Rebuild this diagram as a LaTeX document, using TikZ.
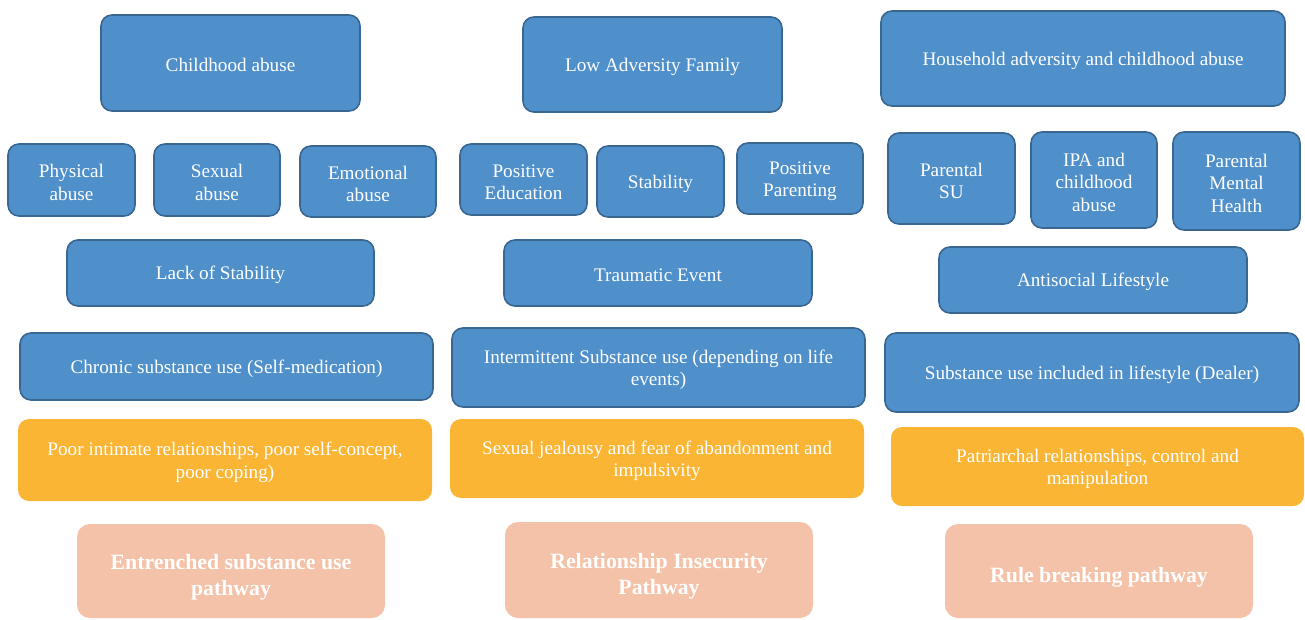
\documentclass[tikz,border=0pt]{standalone}
\usepackage{fontspec}
\setmainfont{Liberation Serif}
\definecolor{bfill}{HTML}{4F8FCA}
\definecolor{bedge}{HTML}{3A6791}
\definecolor{ofill}{HTML}{FBB534}
\definecolor{sfill}{HTML}{F4C2A8}
\newcommand\mystrutA{\rule{0pt}{18pt}}
\newcommand\mystrutB{\rule{0pt}{27pt}}
\tikzset{
  base/.style={rounded corners=11pt, inner sep=0pt, align=center, text=white,
    font=\fontsize{19.2}{22.8}\selectfont},
  bbox/.style={base, fill=bfill, draw=bedge, line width=1.6pt},
  obox/.style={base, fill=ofill},
  sbox/.style={base, fill=sfill, rounded corners=13pt, font=\bfseries\fontsize{21.8}{26}\selectfont},
}
\begin{document}
\begin{tikzpicture}[x=1pt,y=-1pt]
\useasboundingbox (0,0) rectangle (1305,619);
% row 1
\node[bbox, minimum width=259, minimum height=96] (ca) at (230.5,63) {\mystrutA Childhood abuse};
\node[bbox, minimum width=259, minimum height=95] (laf) at (652.5,64.5) {\mystrutA Low Adversity Family};
\node[bbox, minimum width=404, minimum height=95] (ha) at (1083,58.5) {\mystrutA Household adversity and childhood abuse};
% row 2
\node[bbox, minimum width=127, minimum height=72] (pa) at (71.5,180) {\mystrutA Physical\\abuse};
\node[bbox, minimum width=126, minimum height=72] (sa) at (217,180) {\mystrutA Sexual\\abuse};
\node[bbox, minimum width=136, minimum height=71] (ea) at (368,181.5) {\mystrutA Emotional\\abuse};
\node[bbox, minimum width=127, minimum height=71] (pe) at (523.5,179.5) {\mystrutA Positive\\Education};
\node[bbox, minimum width=127, minimum height=71] (st) at (660.5,181.5) {\mystrutA Stability};
\node[bbox, minimum width=126, minimum height=71] (pp) at (800,178.5) {\mystrutA Positive\\Parenting};
\node[bbox, minimum width=127, minimum height=91] (psu) at (951.5,178.5) {\mystrutA Parental\\SU};
\node[bbox, minimum width=126, minimum height=96] (ipa) at (1094,180) {\mystrutA IPA and\\childhood\\abuse};
\node[bbox, minimum width=127, minimum height=98] (pmh) at (1236.5,181) {\mystrutA Parental\\Mental\\Health};
% row 3
\node[bbox, minimum width=307, minimum height=66] (ls) at (220.5,273) {\mystrutA Lack of Stability};
\node[bbox, minimum width=308, minimum height=66] (te) at (658,273) {\mystrutA Traumatic Event};
\node[bbox, minimum width=308, minimum height=66] (al) at (1093,280) {\mystrutA Antisocial Lifestyle};
% row 4
\node[bbox, minimum width=413, minimum height=67] (cs) at (226.5,366.5) {\mystrutA Chronic substance use (Self-medication)};
\node[bbox, minimum width=413, minimum height=79] (is) at (658.5,367.5) {\mystrutA Intermittent Substance use (depending on life\\events)};
\node[bbox, minimum width=414, minimum height=79] (sd) at (1092,372.5) {\mystrutA Substance use included in lifestyle (Dealer)};
% row 5
\node[obox, minimum width=414, minimum height=82] (pr) at (225,460) {\mystrutA Poor intimate relationships, poor self-concept,\\poor coping)};
\node[obox, minimum width=414, minimum height=79] (sj) at (657,458.5) {\mystrutA Sexual jealousy and fear of abandonment and\\impulsivity};
\node[obox, minimum width=413, minimum height=79] (pc) at (1097.5,466.5) {\mystrutA Patriarchal relationships, control and\\manipulation};
% row 6
\node[sbox, minimum width=308, minimum height=94] (ep) at (231,571) {\mystrutB Entrenched substance use\\pathway};
\node[sbox, minimum width=308, minimum height=96] (rp) at (659,570) {\mystrutB Relationship Insecurity\\Pathway};
\node[sbox, minimum width=308, minimum height=94] (rb) at (1099,571) {\mystrutB Rule breaking pathway};
\end{tikzpicture}
\end{document}
